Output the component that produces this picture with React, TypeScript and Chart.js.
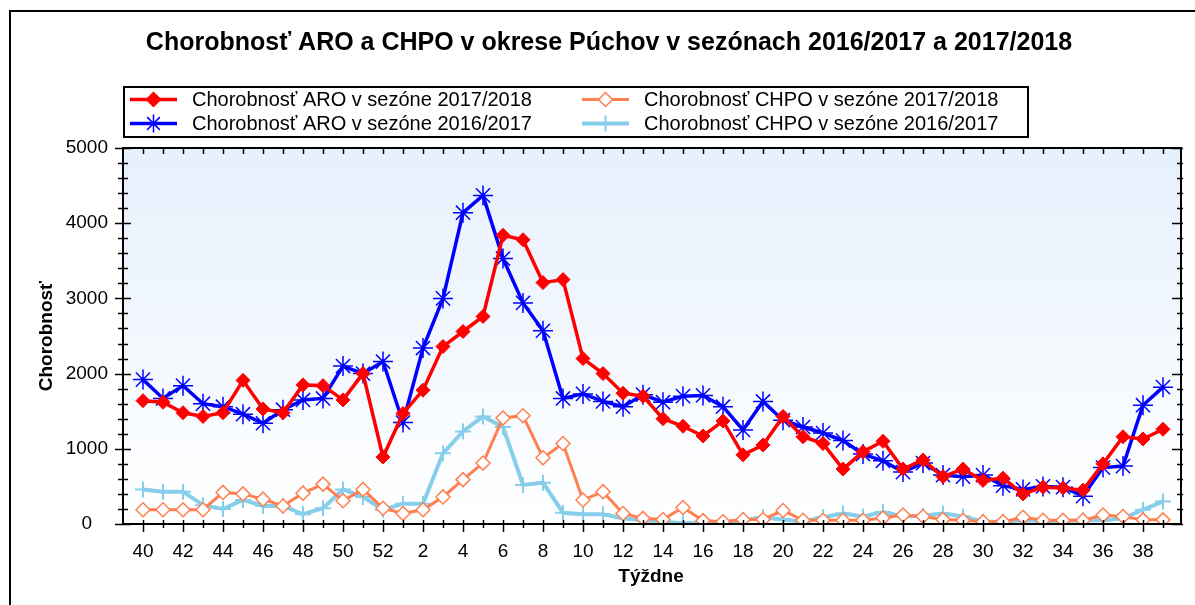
import React, { useEffect, useRef } from 'react';
import { Chart, registerables } from 'chart.js';

Chart.register(...registerables);

const WEEKS = [40, 41, 42, 43, 44, 45, 46, 47, 48, 49, 50, 51, 52, 1, 2, 3, 4, 5, 6, 7, 8, 9, 10, 11, 12, 13, 14, 15, 16, 17, 18, 19, 20, 21, 22, 23, 24, 25, 26, 27, 28, 29, 30, 31, 32, 33, 34, 35, 36, 37, 38, 39];

const ARO_1718 = [1640, 1620, 1480, 1430, 1480, 1910, 1530, 1480, 1850, 1840, 1650, 2000, 890, 1470, 1780, 2360, 2560, 2760, 3840, 3780, 3210, 3250, 2200, 2000, 1740, 1700, 1400, 1300, 1170, 1370, 920, 1050, 1430, 1160, 1070, 730, 960, 1100, 730, 850, 630, 730, 580, 610, 400, 490, 480, 450, 800, 1160, 1130, 1260];
const ARO_1617 = [1920, 1670, 1840, 1600, 1560, 1460, 1340, 1520, 1650, 1670, 2100, 2000, 2160, 1350, 2340, 3000, 4140, 4370, 3530, 2940, 2570, 1670, 1730, 1630, 1560, 1720, 1620, 1700, 1710, 1560, 1250, 1630, 1380, 1290, 1210, 1110, 930, 840, 690, 810, 650, 630, 650, 510, 460, 500, 490, 370, 750, 770, 1580, 1820];
const CHPO_1718 = [190, 190, 190, 190, 420, 400, 330, 240, 410, 530, 310, 460, 210, 140, 190, 360, 590, 810, 1410, 1440, 880, 1070, 320, 430, 140, 75, 60, 220, 45, 30, 60, 60, 180, 50, 50, 50, 50, 80, 120, 100, 60, 50, 30, 30, 90, 50, 50, 50, 120, 100, 55, 55];
const CHPO_1617 = [460, 430, 430, 250, 200, 320, 240, 240, 130, 210, 460, 360, 190, 270, 270, 940, 1230, 1430, 1290, 520, 550, 150, 130, 130, 75, 50, 30, 10, 20, 20, 50, 90, 60, 30, 90, 140, 100, 160, 100, 110, 140, 100, 30, 30, 50, 40, 40, 50, 50, 75, 190, 300];

const Y_TICKS = [0, 1000, 2000, 3000, 4000, 5000];

const TITLE = 'Chorobnosť ARO a CHPO v okrese Púchov v sezónach 2016/2017 a 2017/2018';
const X_TITLE = 'Týždne';
const Y_TITLE = 'Chorobnosť';
const LABEL_ARO_1718 = 'Chorobnosť ARO v sezóne 2017/2018';
const LABEL_ARO_1617 = 'Chorobnosť ARO v sezóne 2016/2017';
const LABEL_CHPO_1718 = 'Chorobnosť CHPO v sezóne 2017/2018';
const LABEL_CHPO_1617 = 'Chorobnosť CHPO v sezóne 2016/2017';

const FONT = "Arial, 'Liberation Sans', sans-serif";
const RED = '#ff0000';
const BLUE = '#0000ff';
const CORAL = '#ff7f50';
const SKY = '#87ceeb';

function drawMarker(ctx: CanvasRenderingContext2D, kind: string, x: number, y: number, r: number, color: string) {
  ctx.save();
  ctx.strokeStyle = color;
  if (kind === 'diamond' || kind === 'odiamond') {
    ctx.beginPath();
    ctx.moveTo(x, y - r);
    ctx.lineTo(x + r, y);
    ctx.lineTo(x, y + r);
    ctx.lineTo(x - r, y);
    ctx.closePath();
    ctx.fillStyle = kind === 'diamond' ? color : '#ffffff';
    ctx.fill();
    ctx.lineWidth = 1.5;
    ctx.stroke();
  } else if (kind === 'star') {
    ctx.lineWidth = 1.5;
    ctx.beginPath();
    for (let k = 0; k < 4; k++) {
      const a = (k * Math.PI) / 4;
      ctx.moveTo(x - Math.cos(a) * r, y - Math.sin(a) * r);
      ctx.lineTo(x + Math.cos(a) * r, y + Math.sin(a) * r);
    }
    ctx.stroke();
  } else if (kind === 'cross') {
    ctx.lineWidth = 2;
    ctx.beginPath();
    ctx.moveTo(x - r, y);
    ctx.lineTo(x + r, y);
    ctx.moveTo(x, y - r);
    ctx.lineTo(x, y + r);
    ctx.stroke();
  }
  ctx.restore();
}

const decorPlugin = {
  id: 'decor',
  beforeDraw(chart: any) {
    const { ctx, chartArea: a } = chart;
    ctx.save();
    ctx.fillStyle = '#ffffff';
    ctx.fillRect(0, 0, chart.width, chart.height);
    const g = ctx.createLinearGradient(0, a.top, 0, a.bottom);
    g.addColorStop(0, '#e6f0fc');
    g.addColorStop(1, '#ffffff');
    ctx.fillStyle = g;
    ctx.fillRect(a.left, a.top, a.right - a.left, a.bottom - a.top);

    // outer frame
    ctx.strokeStyle = '#000';
    ctx.lineWidth = 2;
    ctx.strokeRect(10, 11, chart.width + 20, chart.height + 20);

    // title
    ctx.fillStyle = '#000';
    ctx.textAlign = 'center';
    ctx.textBaseline = 'middle';
    ctx.font = `bold 25px ${FONT}`;
    ctx.fillText(TITLE, 609, 43);

    // axis titles
    ctx.font = `bold 19px ${FONT}`;
    ctx.fillText(X_TITLE, 651, 577);
    ctx.save();
    ctx.translate(47, 336);
    ctx.rotate(-Math.PI / 2);
    ctx.fillText(Y_TITLE, 0, 0);
    ctx.restore();

    // legend box
    ctx.lineWidth = 2;
    ctx.strokeStyle = '#000';
    ctx.strokeRect(124, 87, 904, 50);
    const items = [
      { label: LABEL_ARO_1718, color: RED, kind: 'diamond', lw: 3.5, r: 7, x: 130, y: 99.5 },
      { label: LABEL_CHPO_1718, color: CORAL, kind: 'odiamond', lw: 3, r: 7, x: 582, y: 99.5 },
      { label: LABEL_ARO_1617, color: BLUE, kind: 'star', lw: 3.5, r: 9, x: 130, y: 123.5 },
      { label: LABEL_CHPO_1617, color: SKY, kind: 'cross', lw: 4, r: 8, x: 582, y: 123.5 },
    ];
    ctx.font = `20px ${FONT}`;
    ctx.textAlign = 'left';
    for (const it of items) {
      ctx.strokeStyle = it.color;
      ctx.lineWidth = it.lw;
      ctx.beginPath();
      ctx.moveTo(it.x, it.y);
      ctx.lineTo(it.x + 47, it.y);
      ctx.stroke();
      drawMarker(ctx, it.kind, it.x + 23.5, it.y, it.r, it.color);
      ctx.fillStyle = '#000';
      ctx.fillText(it.label, it.x + 62, it.y + 1);
    }
    ctx.restore();
  },
  afterDatasetsDraw(chart: any) {
    const { ctx, chartArea: a, scales } = chart;
    const xs = scales.x;
    const ys = scales.y;
    ctx.save();
    ctx.strokeStyle = '#000';
    ctx.lineWidth = 2;
    ctx.strokeRect(a.left, a.top, a.right - a.left, a.bottom - a.top);
    ctx.beginPath();
    WEEKS.forEach((_, i) => {
      const px = Math.round(xs.getPixelForValue(i)) + 0.5;
      const major = i % 2 === 0;
      ctx.moveTo(px, a.bottom - 4);
      ctx.lineTo(px, a.bottom + (major ? 8 : 4));
      ctx.moveTo(px, a.top);
      ctx.lineTo(px, a.top + 6);
    });
    for (let v = 0; v <= 5000; v += 200) {
      const py = Math.round(ys.getPixelForValue(v)) + 0.5;
      const major = v % 1000 === 0;
      ctx.moveTo(a.left - (major ? 8 : 5), py);
      ctx.lineTo(a.left + (major ? 8 : 5), py);
      ctx.moveTo(a.right - (major ? 9 : 4), py);
      ctx.lineTo(a.right + 2, py);
    }
    ctx.lineWidth = 1.5;
    ctx.stroke();
    ctx.restore();
  },
};

export default function App() {
  const ref = useRef<HTMLCanvasElement | null>(null);

  useEffect(() => {
    document.body.style.margin = '0';
    const canvas = ref.current;
    if (!canvas) return;
    const pts = (arr: number[]) => arr.map((v, i) => ({ x: i, y: v }));
    const chart = new Chart(canvas, {
      type: 'line',
      data: {
        datasets: [
          {
            label: LABEL_ARO_1718,
            data: pts(ARO_1718),
            borderColor: RED,
            backgroundColor: RED,
            borderWidth: 3.5,
            pointStyle: 'rectRot',
            pointRadius: 7,
            pointBackgroundColor: RED,
            pointBorderColor: RED,
            pointBorderWidth: 1,
            tension: 0,
            order: 0,
          },
          {
            label: LABEL_ARO_1617,
            data: pts(ARO_1617),
            borderColor: BLUE,
            backgroundColor: BLUE,
            borderWidth: 3.5,
            pointStyle: 'star',
            pointRadius: 10,
            pointBorderColor: BLUE,
            pointBorderWidth: 1.5,
            tension: 0,
            order: 1,
          },
          {
            label: LABEL_CHPO_1718,
            data: pts(CHPO_1718),
            borderColor: CORAL,
            backgroundColor: '#ffffff',
            borderWidth: 3,
            pointStyle: 'rectRot',
            pointRadius: 7,
            pointBackgroundColor: '#ffffff',
            pointBorderColor: CORAL,
            pointBorderWidth: 1.5,
            tension: 0,
            order: 2,
          },
          {
            label: LABEL_CHPO_1617,
            data: pts(CHPO_1617),
            borderColor: SKY,
            backgroundColor: SKY,
            borderWidth: 4,
            pointStyle: 'cross',
            pointRadius: 8,
            pointBorderColor: SKY,
            pointBorderWidth: 2,
            tension: 0,
            order: 3,
          },
        ],
      },
      options: {
        responsive: false,
        animation: false,
        devicePixelRatio: 1,
        layout: { padding: { left: 0, top: 148, right: 14, bottom: 0 } },
        plugins: {
          legend: { display: false },
          title: { display: false },
          tooltip: { enabled: false },
        },
        scales: {
          x: {
            type: 'linear',
            min: -1,
            max: 51.9,
            grid: { display: false },
            border: { display: false },
            afterBuildTicks: (s: any) => {
              s.ticks = WEEKS.map((_, i) => i).filter((i) => i % 2 === 0).map((v) => ({ value: v }));
            },
            afterFit: (s: any) => {
              s.height = 81;
            },
            ticks: {
              autoSkip: false,
              maxRotation: 0,
              minRotation: 0,
              padding: 8,
              color: '#000',
              font: { family: FONT, size: 19 },
              callback: (v: any) => String(WEEKS[Math.round(Number(v))] ?? ''),
            },
          },
          y: {
            type: 'linear',
            min: 0,
            max: 5000,
            grid: { display: false },
            border: { display: false },
            afterBuildTicks: (s: any) => {
              s.ticks = Y_TICKS.map((v) => ({ value: v }));
            },
            afterFit: (s: any) => {
              s.width = 123;
            },
            ticks: {
              padding: 7,
              crossAlign: 'center',
              color: '#000',
              font: { family: FONT, size: 19 },
              callback: (v: any) => String(v),
            },
          },
        },
      },
      plugins: [decorPlugin],
    });
    return () => chart.destroy();
  }, []);

  return <canvas ref={ref} width={1195} height={605} style={{ display: 'block' }} />;
}
